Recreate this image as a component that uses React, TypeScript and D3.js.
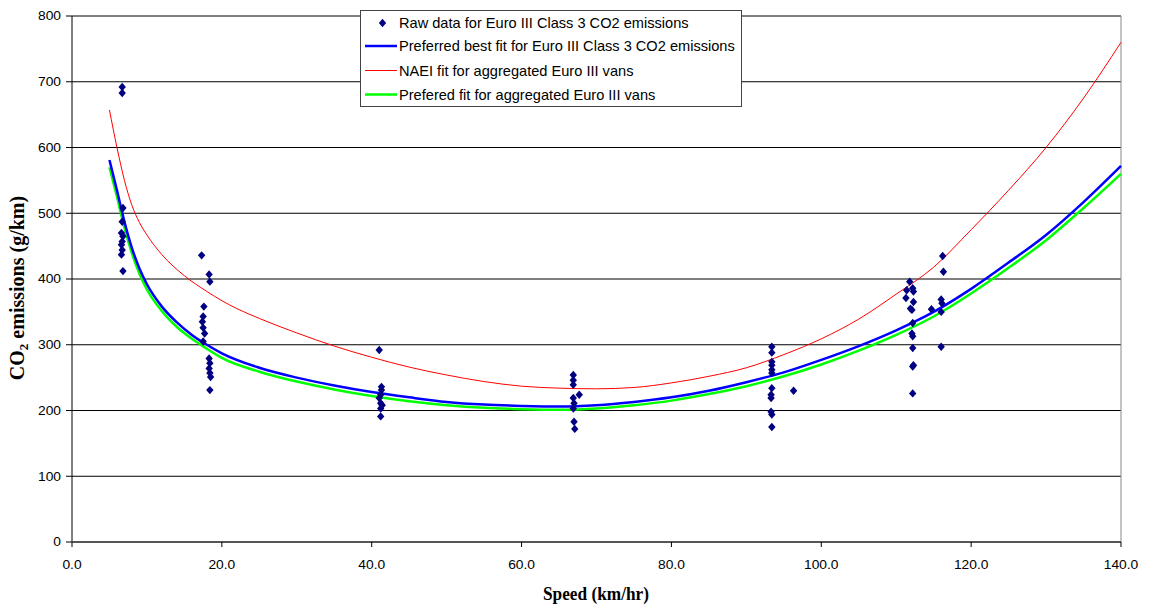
import React from "react";
import * as d3 from "d3";

// Raw measurements: speed (km/hr) and CO2 (g/km), one pair of arrays per test cycle group
const speedA = [6.7, 6.7, 6.8, 6.7, 6.6, 6.8, 6.7, 6.6, 6.7, 6.6, 6.8];
const co2A = [692, 683, 508, 487, 470, 465, 457, 452, 444, 437, 412];

const speedB = [17.3, 18.3, 18.4, 17.6, 17.5, 17.4, 17.5, 17.7, 17.5, 18.3, 18.4, 18.3, 18.4, 18.5, 18.4];
const co2B = [436, 407, 396, 358, 343, 335, 326, 317, 305, 279, 272, 264, 257, 251, 231];

const speedC = [41.0, 41.3, 41.3, 41.2, 41.0, 41.2, 41.4, 41.2, 41.2];
const co2C = [292, 236, 231, 224, 219, 211, 208, 203, 191];

const speedD = [66.9, 66.9, 66.9, 66.9, 67.7, 67.0, 66.9, 67.0, 67.1];
const co2D = [254, 246, 239, 219, 224, 211, 203, 183, 172];

const speedE = [93.4, 93.4, 93.4, 93.4, 93.4, 93.4, 93.4, 93.3, 93.3, 93.3, 93.4, 93.4, 96.3];
const co2E = [297, 288, 274, 269, 262, 257, 234, 224, 219, 198, 194, 175, 230];

const speedF = [111.8, 111.4, 112.2, 112.3, 111.3, 112.3, 111.9, 112.1, 112.2, 112.1, 112.2, 112.2, 112.3, 112.2, 112.2, 114.7, 116.2, 116.3, 116.0, 116.1, 116.0, 116.0];
const co2F = [396, 383, 386, 381, 371, 365, 355, 353, 333, 317, 313, 295, 269, 267, 226, 354, 435, 411, 369, 363, 350, 297];

// Fitted curves sampled along speed
const fitSpeed = [5, 6, 7, 8, 9, 10, 12, 14, 16, 18, 20, 25, 30, 35, 40, 45, 50, 55, 60, 65, 70, 75, 80, 85, 90, 95, 100, 105, 110, 115, 120, 125, 130, 135, 140];
const blueCO2 = [581, 535, 487, 447, 416, 392, 358, 334, 315, 300, 287, 265, 250, 238, 228, 220, 213, 209, 207, 206, 208, 213, 220, 230, 243, 258, 277, 298, 322, 350, 385, 425, 467, 517, 572];
const greenCO2 = [570, 525, 478, 439, 408, 384, 351, 327, 309, 294, 280, 259, 244, 232, 222, 214, 208, 204, 202, 201, 203, 208, 215, 225, 237, 252, 270, 291, 315, 343, 378, 417, 459, 508, 560];

const redSpeed = [5, 6, 7, 8, 9, 10, 12, 15, 18, 20, 22, 25, 30, 35, 40, 45, 50, 55, 60, 65, 70, 75, 80, 85, 90, 95, 100, 105, 110, 115, 120, 125, 130, 135, 140];
const redCO2 = [657, 600, 550, 512, 486, 467, 437, 405, 381, 367, 355, 340, 318, 298, 281, 266, 254, 244, 237, 234, 233, 235, 242, 252, 265, 285, 309, 339, 377, 418, 475, 535, 600, 675, 760];

const xTicks = [0, 20, 40, 60, 80, 100, 120, 140];
const yTicks = [0, 100, 200, 300, 400, 500, 600, 700, 800];

const legendItems = [
  "Raw data for Euro III Class 3 CO2 emissions",
  "Preferred best fit for Euro III Class 3 CO2 emissions",
  "NAEI fit for aggregated Euro III vans",
  "Prefered fit for aggregated Euro III vans",
];

const W = 1149;
const H = 607;
const left = 72;
const right = 1121;
const top = 16;
const bottom = 542;

export default function App() {
  const x = d3.scaleLinear().domain([0, 140]).range([left, right]);
  const y = d3.scaleLinear().domain([0, 800]).range([bottom, top]);

  const line = d3
    .line<[number, number]>()
    .x((d) => x(d[0]))
    .y((d) => y(d[1]))
    .curve(d3.curveMonotoneX);

  const bluePts = fitSpeed.map((s, i) => [s, blueCO2[i]] as [number, number]);
  const greenPts = fitSpeed.map((s, i) => [s, greenCO2[i]] as [number, number]);
  const redPts = redSpeed.map((s, i) => [s, redCO2[i]] as [number, number]);

  const rawSpeed = [...speedA, ...speedB, ...speedC, ...speedD, ...speedE, ...speedF];
  const rawCO2 = [...co2A, ...co2B, ...co2C, ...co2D, ...co2E, ...co2F];

  const diamond = (cx: number, cy: number) =>
    `M${cx},${cy - 4.2}L${cx + 3.7},${cy}L${cx},${cy + 4.2}L${cx - 3.7},${cy}Z`;

  const font = "Arial, 'Liberation Sans', sans-serif";
  const serif = "'Times New Roman', 'Liberation Serif', serif";

  const legX = 360.5;
  const legY = 10.5;
  const rowY = [23, 46, 70.5, 94.5];

  return (
    <svg
      width={W}
      height={H}
      style={{ position: "absolute", left: 0, top: 0, background: "#fff" }}
    >
      {/* horizontal gridlines */}
      {yTicks.slice(1).map((t) => (
        <line key={t} x1={left} x2={right} y1={y(t)} y2={y(t)} stroke="#000" strokeWidth={1} />
      ))}
      {/* right border */}
      <line x1={right} x2={right} y1={top} y2={bottom} stroke="#888" strokeWidth={1} />

      {/* y axis */}
      <line x1={left} x2={left} y1={top} y2={bottom} stroke="#000" strokeWidth={1} />
      {yTicks.map((t) => (
        <g key={t}>
          <line x1={left - 6} x2={left} y1={y(t)} y2={y(t)} stroke="#000" />
          <text
            transform={`translate(${left - 11}, ${y(t) + 4.3}) scale(1.15, 1)`}
            textAnchor="end"
            fontFamily={font}
            fontSize={12}
          >
            {t}
          </text>
        </g>
      ))}

      {/* x axis */}
      <line x1={left} x2={right} y1={bottom} y2={bottom} stroke="#555" strokeWidth={2} />
      {xTicks.map((t) => (
        <g key={t}>
          <line x1={x(t)} x2={x(t)} y1={bottom} y2={bottom + 5} stroke="#000" />
          <text
            transform={`translate(${x(t)}, ${bottom + 26.5}) scale(1.15, 1)`}
            textAnchor="middle"
            fontFamily={font}
            fontSize={12}
          >
            {t.toFixed(1)}
          </text>
        </g>
      ))}

      {/* fitted curves */}
      <path d={line(greenPts) || ""} fill="none" stroke="#00ff00" strokeWidth={2.5} />
      <path d={line(bluePts) || ""} fill="none" stroke="#0000ff" strokeWidth={2.5} />
      <path d={line(redPts) || ""} fill="none" stroke="#ff0000" strokeWidth={1} />

      {/* raw data points */}
      {rawSpeed.map((s, i) => (
        <path key={i} d={diamond(x(s), y(rawCO2[i]))} fill="#000080" />
      ))}

      {/* axis titles */}
      <text
        x={596}
        y={600}
        textAnchor="middle"
        fontFamily={serif}
        fontWeight="bold"
        fontSize={19}
        textLength={106}
        lengthAdjust="spacingAndGlyphs"
      >
        Speed (km/hr)
      </text>
      <text
        transform={`translate(24, 288) rotate(-90)`}
        textAnchor="middle"
        fontFamily={serif}
        fontWeight="bold"
        fontSize={20}
      >
        CO<tspan fontSize={13} dy={4}>2</tspan>
        <tspan dy={-4}> emissions (g/km)</tspan>
      </text>

      {/* legend */}
      <rect x={legX} y={legY} width={381} height={96} fill="#fff" stroke="#444" strokeWidth={1} />
      <path d={diamond(382.5, rowY[0])} fill="#000080" />
      <line x1={365} x2={397} y1={rowY[1]} y2={rowY[1]} stroke="#0000ff" strokeWidth={2.5} />
      <line x1={365} x2={397} y1={rowY[2]} y2={rowY[2]} stroke="#ff0000" strokeWidth={1} />
      <line x1={365} x2={397} y1={rowY[3]} y2={rowY[3]} stroke="#00ff00" strokeWidth={2.5} />
      {legendItems.map((t, i) => (
        <text key={t} x={399} y={rowY[i] + 5.3} fontFamily={font} fontSize={14.6}>
          {t}
        </text>
      ))}
    </svg>
  );
}
